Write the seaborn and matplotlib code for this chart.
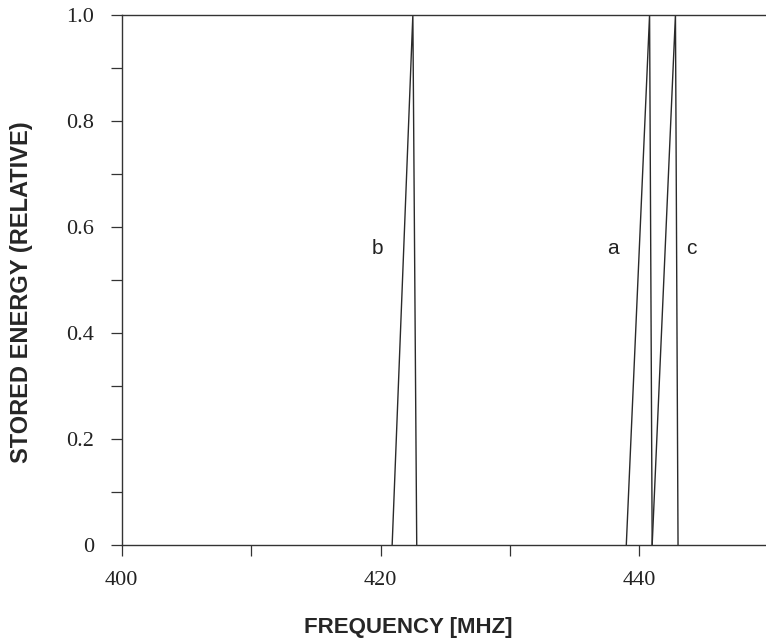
import numpy as np
import matplotlib
matplotlib.use("Agg")
import matplotlib.pyplot as plt
import seaborn as sns

# Resonance curves (frequency in MHz, relative stored energy)
freq_a = [439.0, 440.8, 441.0]
energy_a = [0.0, 1.0, 0.0]
freq_b = [420.9, 422.5, 422.8]
energy_b = [0.0, 1.0, 0.0]
freq_c = [441.0, 442.8, 443.0]
energy_c = [0.0, 1.0, 0.0]

curve_labels = ["a", "b", "c"]
label_x = [438.0, 419.8, 444.0]
label_y = [0.56, 0.56, 0.56]

x_major = [400, 420, 440]
x_minor = [410, 430]
y_major = [0, 0.2, 0.4, 0.6, 0.8, 1.0]
y_major_labels = ["0", "0.2", "0.4", "0.6", "0.8", "1.0"]
y_minor = [0.1, 0.3, 0.5, 0.7, 0.9]

sns.set_style("ticks")

fig = plt.figure(figsize=(7.66, 6.42), dpi=100)
ax = fig.add_axes([0.159, 0.151, 0.841, 0.826])

for fx, ey in [(freq_a, energy_a), (freq_b, energy_b), (freq_c, energy_c)]:
    sns.lineplot(x=fx, y=ey, ax=ax, color="#2a2a2a", linewidth=1.0,
                 estimator=None, sort=False)

for lab, lx, ly in zip(curve_labels, label_x, label_y):
    ax.text(lx, ly, lab, fontsize=15, family="Liberation Sans",
            color="#222222", ha="center", va="center")

ax.set_xlim(400, 449.8)
ax.set_ylim(0, 1.0)

ax.set_xticks(x_major)
ax.set_xticklabels([str(v) for v in x_major])
ax.set_xticks(x_minor, minor=True)
ax.set_yticks(y_major)
ax.set_yticklabels(y_major_labels)
ax.set_yticks(y_minor, minor=True)

ax.tick_params(axis="both", which="both", direction="out", color="#333333",
               width=0.9)
ax.tick_params(axis="both", which="major", length=8, labelsize=16,
               labelcolor="#222222")
ax.tick_params(axis="both", which="minor", length=8)
ax.tick_params(axis="x", which="major", pad=11)
ax.tick_params(axis="y", which="major", pad=12)
for t in ax.get_xticklabels() + ax.get_yticklabels():
    t.set_family("Liberation Serif")

for side in ["left", "top", "bottom"]:
    ax.spines[side].set_color("#333333")
    ax.spines[side].set_linewidth(1.0)
ax.spines["right"].set_visible(False)

xl = ax.set_xlabel("FREQUENCY [MHZ]", fontsize=16, fontweight="bold",
                   family="Liberation Sans")
yl = ax.set_ylabel("STORED ENERGY (RELATIVE)", fontsize=17, fontweight="bold",
                   family="Liberation Sans")
xl.set_va("center")
yl.set_va("center")
ax.xaxis.set_label_coords(0.444, -0.155)
ax.yaxis.set_label_coords(-0.155, 0.477)

fig.savefig("out.png", dpi=100)
